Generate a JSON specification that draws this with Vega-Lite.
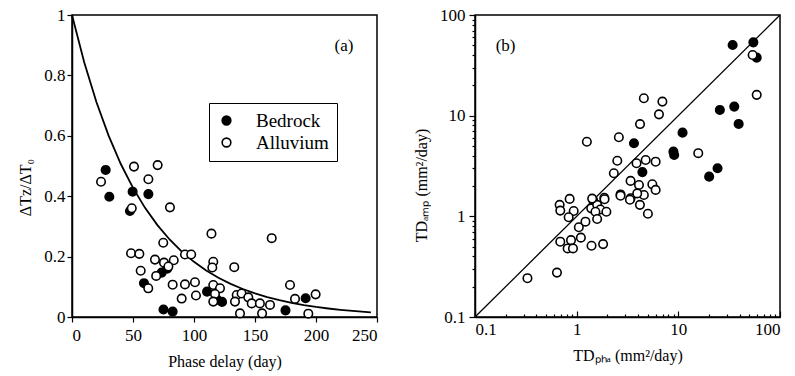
{
  "$schema": "https://vega.github.io/schema/vega-lite/v6.json",
  "background": "white",
  "padding": {"left": 17, "top": 5, "right": 5, "bottom": 5},
  "spacing": 98,
  "bounds": "flush",
  "config": {
    "font": "Liberation Serif",
    "view": {"stroke": "black", "strokeWidth": 1.5},
    "axis": {
      "labelFont": "Liberation Serif", "titleFont": "Liberation Serif",
      "labelFontSize": 17, "titleFontSize": 16, "labelColor": "black", "titleColor": "black",
      "titleFontWeight": "normal", "domainColor": "black", "tickColor": "black",
      "domainWidth": 1.5, "tickWidth": 1.2, "grid": false
    }
  },
  "resolve": {"scale": {"fill": "independent"}, "legend": {"fill": "independent"}},
  "datasets": {
    "curve": [
      {"t": 0, "v": 1}, {"t": 10, "v": 0.8437}, {"t": 20, "v": 0.7118}, {"t": 30, "v": 0.6005},
      {"t": 40, "v": 0.5066}, {"t": 50, "v": 0.4274}, {"t": 60, "v": 0.3606}, {"t": 70, "v": 0.3042},
      {"t": 80, "v": 0.2567}, {"t": 90, "v": 0.2165}, {"t": 100, "v": 0.1827}, {"t": 110, "v": 0.1541},
      {"t": 120, "v": 0.1300}, {"t": 130, "v": 0.1097}, {"t": 140, "v": 0.0926}, {"t": 150, "v": 0.0781},
      {"t": 160, "v": 0.0659}, {"t": 170, "v": 0.0556}, {"t": 180, "v": 0.0469}, {"t": 190, "v": 0.0396},
      {"t": 200, "v": 0.0334}, {"t": 210, "v": 0.0282}, {"t": 220, "v": 0.0237}, {"t": 230, "v": 0.0200},
      {"t": 240, "v": 0.0169}, {"t": 245, "v": 0.0155}
    ],
    "pa": [
      {"t": 27.6, "v": 0.487, "type": "Bedrock"}, {"t": 30.6, "v": 0.398, "type": "Bedrock"},
      {"t": 49.7, "v": 0.415, "type": "Bedrock"}, {"t": 62.6, "v": 0.407, "type": "Bedrock"},
      {"t": 47.5, "v": 0.351, "type": "Bedrock"}, {"t": 73.5, "v": 0.147, "type": "Bedrock"},
      {"t": 78, "v": 0.16, "type": "Bedrock"}, {"t": 59, "v": 0.112, "type": "Bedrock"},
      {"t": 75, "v": 0.025, "type": "Bedrock"}, {"t": 82.5, "v": 0.018, "type": "Bedrock"},
      {"t": 110.7, "v": 0.084, "type": "Bedrock"}, {"t": 119, "v": 0.057, "type": "Bedrock"},
      {"t": 123, "v": 0.05, "type": "Bedrock"}, {"t": 175, "v": 0.022, "type": "Bedrock"},
      {"t": 191.5, "v": 0.062, "type": "Bedrock"},
      {"t": 23.8, "v": 0.448, "type": "Alluvium"}, {"t": 50.8, "v": 0.498, "type": "Alluvium"},
      {"t": 70.2, "v": 0.503, "type": "Alluvium"}, {"t": 62.6, "v": 0.456, "type": "Alluvium"},
      {"t": 80.3, "v": 0.363, "type": "Alluvium"}, {"t": 74.8, "v": 0.246, "type": "Alluvium"},
      {"t": 48.4, "v": 0.211, "type": "Alluvium"}, {"t": 55.2, "v": 0.209, "type": "Alluvium"},
      {"t": 56.3, "v": 0.153, "type": "Alluvium"}, {"t": 68, "v": 0.19, "type": "Alluvium"},
      {"t": 75.4, "v": 0.18, "type": "Alluvium"}, {"t": 83.4, "v": 0.188, "type": "Alluvium"},
      {"t": 79, "v": 0.167, "type": "Alluvium"}, {"t": 69, "v": 0.136, "type": "Alluvium"},
      {"t": 62.5, "v": 0.095, "type": "Alluvium"}, {"t": 82.5, "v": 0.107, "type": "Alluvium"},
      {"t": 92.6, "v": 0.108, "type": "Alluvium"}, {"t": 100.8, "v": 0.115, "type": "Alluvium"},
      {"t": 89.9, "v": 0.061, "type": "Alluvium"}, {"t": 101.6, "v": 0.071, "type": "Alluvium"},
      {"t": 92.6, "v": 0.207, "type": "Alluvium"}, {"t": 97.7, "v": 0.207, "type": "Alluvium"},
      {"t": 114.3, "v": 0.276, "type": "Alluvium"}, {"t": 115.8, "v": 0.183, "type": "Alluvium"},
      {"t": 115, "v": 0.164, "type": "Alluvium"}, {"t": 133, "v": 0.165, "type": "Alluvium"},
      {"t": 163.7, "v": 0.261, "type": "Alluvium"}, {"t": 115.8, "v": 0.106, "type": "Alluvium"},
      {"t": 121.3, "v": 0.095, "type": "Alluvium"}, {"t": 117.2, "v": 0.076, "type": "Alluvium"},
      {"t": 115.8, "v": 0.051, "type": "Alluvium"}, {"t": 135, "v": 0.073, "type": "Alluvium"},
      {"t": 133.6, "v": 0.051, "type": "Alluvium"}, {"t": 139, "v": 0.078, "type": "Alluvium"},
      {"t": 144.5, "v": 0.065, "type": "Alluvium"}, {"t": 147.3, "v": 0.045, "type": "Alluvium"},
      {"t": 154, "v": 0.045, "type": "Alluvium"}, {"t": 162.3, "v": 0.04, "type": "Alluvium"},
      {"t": 137.7, "v": 0.012, "type": "Alluvium"}, {"t": 155.8, "v": 0.012, "type": "Alluvium"},
      {"t": 178.7, "v": 0.106, "type": "Alluvium"}, {"t": 182.8, "v": 0.06, "type": "Alluvium"},
      {"t": 199.7, "v": 0.075, "type": "Alluvium"}, {"t": 193.7, "v": 0.011, "type": "Alluvium"},
      {"t": 49, "v": 0.36, "type": "Alluvium"}
    ],
    "pb": [
      {"pha": 34.2, "amp": 50.4, "type": "Bedrock"}, {"pha": 54.7, "amp": 53.5, "type": "Bedrock"},
      {"pha": 59, "amp": 37.7, "type": "Bedrock"}, {"pha": 25.6, "amp": 11.4, "type": "Bedrock"},
      {"pha": 35.5, "amp": 12.3, "type": "Bedrock"}, {"pha": 39.2, "amp": 8.28, "type": "Bedrock"},
      {"pha": 11, "amp": 6.78, "type": "Bedrock"}, {"pha": 8.95, "amp": 4.39, "type": "Bedrock"},
      {"pha": 9.1, "amp": 4.07, "type": "Bedrock"}, {"pha": 24.3, "amp": 3.0, "type": "Bedrock"},
      {"pha": 20.1, "amp": 2.48, "type": "Bedrock"}, {"pha": 4.43, "amp": 2.75, "type": "Bedrock"},
      {"pha": 3.66, "amp": 5.32, "type": "Bedrock"}, {"pha": 2.7, "amp": 1.65, "type": "Bedrock"},
      {"pha": 53.8, "amp": 40.1, "type": "Alluvium"}, {"pha": 59, "amp": 16.1, "type": "Alluvium"},
      {"pha": 15.7, "amp": 4.24, "type": "Alluvium"}, {"pha": 4.58, "amp": 14.9, "type": "Alluvium"},
      {"pha": 6.97, "amp": 13.8, "type": "Alluvium"}, {"pha": 6.45, "amp": 10.3, "type": "Alluvium"},
      {"pha": 4.2, "amp": 8.25, "type": "Alluvium"}, {"pha": 2.6, "amp": 6.1, "type": "Alluvium"},
      {"pha": 1.26, "amp": 5.5, "type": "Alluvium"}, {"pha": 2.51, "amp": 3.57, "type": "Alluvium"},
      {"pha": 2.32, "amp": 2.68, "type": "Alluvium"}, {"pha": 3.88, "amp": 3.37, "type": "Alluvium"},
      {"pha": 4.77, "amp": 3.63, "type": "Alluvium"}, {"pha": 5.98, "amp": 3.49, "type": "Alluvium"},
      {"pha": 3.39, "amp": 2.25, "type": "Alluvium"}, {"pha": 4.1, "amp": 2.05, "type": "Alluvium"},
      {"pha": 5.55, "amp": 2.08, "type": "Alluvium"}, {"pha": 5.98, "amp": 1.83, "type": "Alluvium"},
      {"pha": 1.87, "amp": 1.53, "type": "Alluvium"}, {"pha": 3.39, "amp": 1.51, "type": "Alluvium"},
      {"pha": 4.58, "amp": 1.63, "type": "Alluvium"}, {"pha": 3.94, "amp": 1.69, "type": "Alluvium"},
      {"pha": 3.34, "amp": 1.46, "type": "Alluvium"}, {"pha": 4.19, "amp": 1.3, "type": "Alluvium"},
      {"pha": 5.02, "amp": 1.06, "type": "Alluvium"}, {"pha": 0.68, "amp": 1.3, "type": "Alluvium"},
      {"pha": 0.69, "amp": 1.14, "type": "Alluvium"}, {"pha": 0.853, "amp": 1.49, "type": "Alluvium"},
      {"pha": 0.935, "amp": 1.13, "type": "Alluvium"}, {"pha": 0.834, "amp": 0.98, "type": "Alluvium"},
      {"pha": 1.05, "amp": 0.78, "type": "Alluvium"}, {"pha": 1.22, "amp": 0.885, "type": "Alluvium"},
      {"pha": 1.1, "amp": 0.614, "type": "Alluvium"}, {"pha": 1.39, "amp": 1.2, "type": "Alluvium"},
      {"pha": 1.45, "amp": 1.46, "type": "Alluvium"}, {"pha": 1.59, "amp": 1.3, "type": "Alluvium"},
      {"pha": 1.71, "amp": 1.17, "type": "Alluvium"}, {"pha": 1.88, "amp": 1.48, "type": "Alluvium"},
      {"pha": 1.96, "amp": 1.11, "type": "Alluvium"}, {"pha": 1.53, "amp": 1.11, "type": "Alluvium"},
      {"pha": 1.59, "amp": 0.94, "type": "Alluvium"}, {"pha": 0.69, "amp": 0.56, "type": "Alluvium"},
      {"pha": 0.88, "amp": 0.58, "type": "Alluvium"}, {"pha": 0.815, "amp": 0.48, "type": "Alluvium"},
      {"pha": 0.92, "amp": 0.48, "type": "Alluvium"}, {"pha": 1.4, "amp": 0.51, "type": "Alluvium"},
      {"pha": 1.82, "amp": 0.53, "type": "Alluvium"}, {"pha": 0.64, "amp": 0.276, "type": "Alluvium"},
      {"pha": 0.328, "amp": 0.243, "type": "Alluvium"}, {"pha": 2.7, "amp": 1.6, "type": "Alluvium"},
      {"pha": 1.42, "amp": 1.5, "type": "Alluvium"}
    ],
    "diag": [{"pha": 0.1, "amp": 0.1}, {"pha": 100, "amp": 100}],
    "labA": [{"t": 223, "v": 0.897, "label": "(a)"}],
    "labB": [{"pha": 0.2, "amp": 49, "label": "(b)"}]
  },
  "hconcat": [
    {
      "width": 305, "height": 302,
      "layer": [
        {
          "data": {"name": "curve"},
          "mark": {"type": "line", "color": "black", "strokeWidth": 1.8},
          "encoding": {
            "x": {"field": "t", "type": "quantitative", "scale": {"domain": [0, 250], "nice": false},
                  "axis": {"values": [0, 50, 100, 150, 200, 250], "format": "d", "title": "Phase delay (day)", "tickSize": 5, "labelPadding": 5, "titlePadding": 10}},
            "y": {"field": "v", "type": "quantitative", "scale": {"domain": [0, 1], "nice": false},
                  "axis": {"values": [0, 0.2, 0.4, 0.6, 0.8, 1], "format": "~r", "title": "ΔTz/ΔT₀", "tickSize": 5, "titlePadding": 10, "titleY": 172}}
          }
        },
        {
          "data": {"name": "pa"},
          "mark": {"type": "point", "shape": "circle", "filled": true, "stroke": "black", "strokeWidth": 1.6, "size": 72, "opacity": 1},
          "encoding": {
            "x": {"field": "t", "type": "quantitative"},
            "y": {"field": "v", "type": "quantitative"},
            "fill": {"field": "type", "type": "nominal",
                     "scale": {"domain": ["Bedrock", "Alluvium"], "range": ["black", "white"]},
                     "legend": {"title": null, "orient": "none", "legendX": 137, "legendY": 88,
                                "strokeColor": "black", "fillColor": "white", "padding": 8,
                                "labelFont": "Liberation Serif", "labelFontSize": 19, "labelColor": "black",
                                "symbolType": "circle", "symbolSize": 75, "symbolStrokeColor": "black",
                                "symbolStrokeWidth": 1.6, "rowPadding": 2, "labelOffset": 20}}
          }
        },
        {
          "data": {"name": "labA"},
          "mark": {"type": "text", "fontSize": 17, "font": "Liberation Serif", "color": "black"},
          "encoding": {
            "x": {"field": "t", "type": "quantitative"},
            "y": {"field": "v", "type": "quantitative"},
            "text": {"field": "label"}
          }
        }
      ]
    },
    {
      "width": 305, "height": 302,
      "layer": [
        {
          "data": {"name": "diag"},
          "mark": {"type": "line", "color": "black", "strokeWidth": 1.3},
          "encoding": {
            "x": {"field": "pha", "type": "quantitative", "scale": {"type": "log", "domain": [0.1, 100], "nice": false},
                  "axis": {"values": [0.1,0.2,0.3,0.4,0.5,0.6,0.7,0.8,0.9,1,2,3,4,5,6,7,8,9,10,20,30,40,50,60,70,80,90,100],
                           "format": "~r",
                           "labelExpr": "abs(log(datum.value)/LN10 - round(log(datum.value)/LN10)) < 0.001 ? datum.label : ''",
                           "tickSize": {"condition": {"test": "abs(log(datum.value)/LN10 - round(log(datum.value)/LN10)) < 0.001", "value": -6}, "value": -3},
                           "title": "TDₚₕₐ (mm²/day)", "titlePadding": 10, "labelPadding": 10}},
            "y": {"field": "amp", "type": "quantitative", "scale": {"type": "log", "domain": [0.1, 100], "nice": false},
                  "axis": {"values": [0.1,0.2,0.3,0.4,0.5,0.6,0.7,0.8,0.9,1,2,3,4,5,6,7,8,9,10,20,30,40,50,60,70,80,90,100],
                           "format": "~r",
                           "labelExpr": "abs(log(datum.value)/LN10 - round(log(datum.value)/LN10)) < 0.001 ? datum.label : ''",
                           "tickSize": {"condition": {"test": "abs(log(datum.value)/LN10 - round(log(datum.value)/LN10)) < 0.001", "value": 6}, "value": 3},
                           "title": "TDₐₘₚ (mm²/day)", "titlePadding": 10, "labelPadding": 4, "titleY": 170}}
          }
        },
        {
          "data": {"name": "pb"},
          "mark": {"type": "point", "shape": "circle", "filled": true, "stroke": "black", "strokeWidth": 1.6, "size": 72, "opacity": 1},
          "encoding": {
            "x": {"field": "pha", "type": "quantitative"},
            "y": {"field": "amp", "type": "quantitative"},
            "fill": {"field": "type", "type": "nominal",
                     "scale": {"domain": ["Bedrock", "Alluvium"], "range": ["black", "white"]},
                     "legend": null}
          }
        },
        {
          "data": {"name": "labB"},
          "mark": {"type": "text", "fontSize": 17, "font": "Liberation Serif", "color": "black"},
          "encoding": {
            "x": {"field": "pha", "type": "quantitative"},
            "y": {"field": "amp", "type": "quantitative"},
            "text": {"field": "label"}
          }
        }
      ]
    }
  ]
}
